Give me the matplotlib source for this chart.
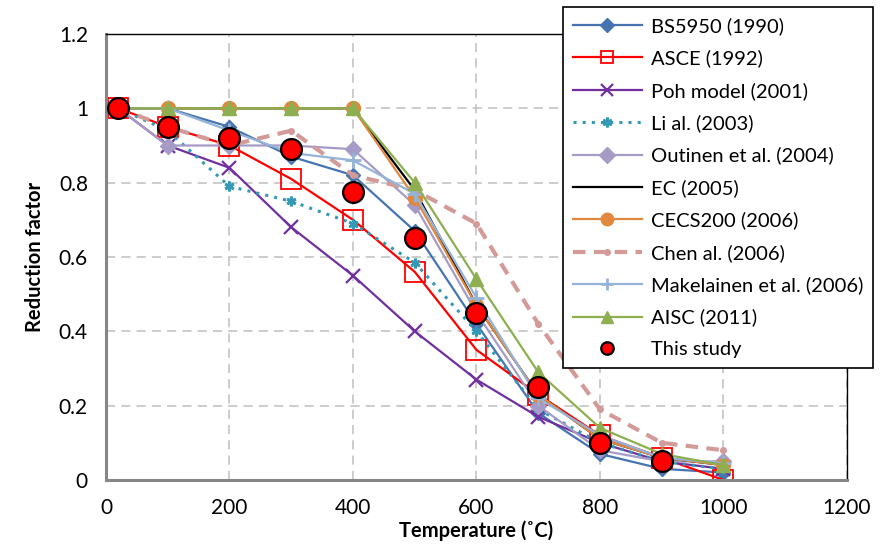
import matplotlib
matplotlib.use("Agg")
import matplotlib.pyplot as plt
from matplotlib.lines import Line2D

plt.rcParams['font.family'] = ['Lato', 'DejaVu Sans']

temps = [20, 100, 200, 300, 400, 500, 600, 700, 800, 900, 1000]
temps_study = [20, 100, 200, 300, 400, 500, 600, 700, 800, 900]

bs5950 = [1.0, 1.0, 0.95, 0.87, 0.82, 0.67, 0.42, 0.18, 0.07, 0.03, 0.02]
asce = [1.0, 0.95, 0.90, 0.81, 0.70, 0.56, 0.35, 0.23, 0.12, 0.06, 0.0]
poh = [1.0, 0.90, 0.84, 0.68, 0.55, 0.40, 0.27, 0.17, 0.10, 0.05, 0.03]
li = [1.0, 0.94, 0.79, 0.75, 0.69, 0.585, 0.40, 0.19, 0.10, 0.05, 0.03]
outinen = [1.0, 0.90, 0.90, 0.90, 0.89, 0.74, 0.45, 0.20, 0.08, 0.05, 0.05]
ec = [1.0, 1.0, 1.0, 1.0, 1.0, 0.78, 0.47, 0.23, 0.11, 0.06, 0.04]
cecs200 = [1.0, 1.0, 1.0, 1.0, 1.0, 0.76, 0.47, 0.23, 0.11, 0.06, 0.04]
chen = [1.0, 0.95, 0.90, 0.94, 0.82, 0.78, 0.69, 0.42, 0.19, 0.10, 0.08]
makelainen = [1.0, 1.0, 0.94, 0.88, 0.86, 0.77, 0.49, 0.22, 0.12, 0.06, 0.045]
aisc = [1.0, 1.0, 1.0, 1.0, 1.0, 0.80, 0.54, 0.29, 0.14, 0.07, 0.04]
this_study = [1.0, 0.95, 0.92, 0.89, 0.775, 0.65, 0.45, 0.25, 0.10, 0.05]

fig = plt.figure(figsize=(8.87, 5.45), dpi=100)
ax = fig.add_axes([0.1195, 0.1193, 0.8354, 0.8183])

lw = 1.6
ax.plot(temps, bs5950, color='#4674B2', lw=lw, marker='D', ms=7.5,
        label='BS5950 (1990)')
ax.plot(temps, asce, color='#FF0000', lw=lw, marker='s', ms=14, mfc='none',
        mec='#FF0000', mew=1.3, label='ASCE (1992)')
ax.plot(temps, poh, color='#7030A0', lw=lw, marker='x', ms=10, mew=1.6,
        label='Poh model (2001)')
ax.plot(temps, li, color='#3399B5', lw=2.2, ls=(0, (1, 2)), marker=(6, 2, 0),
        ms=7, mew=2, label='Li al. (2003)')
ax.plot(temps, outinen, color='#A69BC6', lw=lw, marker='D', ms=8.5,
        label='Outinen et al. (2004)')
ax.plot(temps, ec, color='black', lw=lw, label='EC (2005)')
ax.plot(temps, cecs200, color='#E0893E', lw=lw, marker='o', ms=10,
        label='CECS200 (2006)')
ax.plot(temps, chen, color='#D39A98', lw=3, ls=(0, (3, 2)), marker='o', ms=4,
        label='Chen al. (2006)')
ax.plot(temps, makelainen, color='#95B3D7', lw=lw, marker='+', ms=11, mew=2,
        label='Makelainen et al. (2006)')
ax.plot(temps, aisc, color='#8DAF51', lw=lw, marker='^', ms=10,
        label='AISC (2011)')
ax.plot(temps_study, this_study, ls='none', marker='o', ms=15,
        mfc='#FF0000', mec='black', mew=1.6, label='This study', zorder=5)

ax.set_xlim(0, 1200)
ax.set_ylim(0, 1.2)
ax.set_xticks(range(0, 1201, 200))
ax.set_yticks([0, 0.2, 0.4, 0.6, 0.8, 1.0, 1.2])
ax.set_yticklabels(['0', '0.2', '0.4', '0.6', '0.8', '1', '1.2'])
ax.tick_params(length=0, labelsize=15, pad=13, colors='black')
ax.grid(True, color='#BFBFBF', ls=(0, (6, 4)), lw=1.1)
ax.set_axisbelow(True)

for side in ('top', 'right'):
    ax.spines[side].set_color('black')
    ax.spines[side].set_linewidth(1.0)
for side in ('left', 'bottom'):
    ax.spines[side].set_color('#868686')
    ax.spines[side].set_linewidth(2.2)

ax.set_xlabel('Temperature (˚C)', fontsize=14.5, fontweight='bold', labelpad=2)
ax.set_ylabel('Reduction factor', fontsize=14.5, fontweight='bold', labelpad=10)

leg = fig.legend(loc='upper left', bbox_to_anchor=(563 / 887, 1 - 7 / 545),
                 fontsize=14.5, frameon=True, fancybox=False, edgecolor='black',
                 framealpha=1, handlelength=3.4, handletextpad=0.45,
                 labelspacing=0.72, borderpad=0.5, borderaxespad=0)
leg.get_frame().set_linewidth(1.2)
leg.set_zorder(10)
# scale the legend sample markers down to line-sample size
for h in leg.legend_handles:
    if isinstance(h, Line2D):
        h.set_markersize(min(h.get_markersize(), 9))

fig.savefig('out.png', dpi=100)
